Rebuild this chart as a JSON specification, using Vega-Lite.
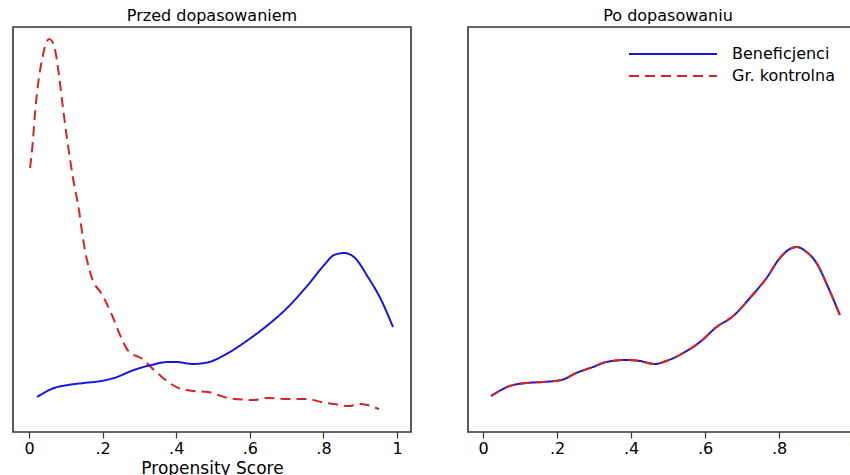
{
  "$schema": "https://vega.github.io/schema/vega-lite/v6.json",
  "background": "white",
  "padding": {"left": 12, "top": 7, "right": 0, "bottom": 0},
  "spacing": 55,
  "config": {
    "font": "DejaVu Sans",
    "view": {"stroke": "#333333", "strokeWidth": 1.6},
    "title": {"fontSize": 16, "fontWeight": "normal", "color": "#000000", "offset": 3, "frame": "group", "anchor": "middle"}
  },
  "datasets": {
    "d": [
      {"panel": "przed", "group": "Gr. kontrolna", "x": 0.003, "y": 2.64},
      {"panel": "przed", "group": "Gr. kontrolna", "x": 0.010, "y": 2.89},
      {"panel": "przed", "group": "Gr. kontrolna", "x": 0.017, "y": 3.22},
      {"panel": "przed", "group": "Gr. kontrolna", "x": 0.025, "y": 3.49},
      {"panel": "przed", "group": "Gr. kontrolna", "x": 0.037, "y": 3.75},
      {"panel": "przed", "group": "Gr. kontrolna", "x": 0.046, "y": 3.89},
      {"panel": "przed", "group": "Gr. kontrolna", "x": 0.055, "y": 3.93},
      {"panel": "przed", "group": "Gr. kontrolna", "x": 0.064, "y": 3.90},
      {"panel": "przed", "group": "Gr. kontrolna", "x": 0.073, "y": 3.78},
      {"panel": "przed", "group": "Gr. kontrolna", "x": 0.082, "y": 3.55},
      {"panel": "przed", "group": "Gr. kontrolna", "x": 0.092, "y": 3.25},
      {"panel": "przed", "group": "Gr. kontrolna", "x": 0.105, "y": 2.89},
      {"panel": "przed", "group": "Gr. kontrolna", "x": 0.119, "y": 2.55},
      {"panel": "przed", "group": "Gr. kontrolna", "x": 0.137, "y": 2.19},
      {"panel": "przed", "group": "Gr. kontrolna", "x": 0.146, "y": 1.95},
      {"panel": "przed", "group": "Gr. kontrolna", "x": 0.173, "y": 1.52},
      {"panel": "przed", "group": "Gr. kontrolna", "x": 0.196, "y": 1.39},
      {"panel": "przed", "group": "Gr. kontrolna", "x": 0.223, "y": 1.19},
      {"panel": "przed", "group": "Gr. kontrolna", "x": 0.245, "y": 0.99},
      {"panel": "przed", "group": "Gr. kontrolna", "x": 0.272, "y": 0.80},
      {"panel": "przed", "group": "Gr. kontrolna", "x": 0.304, "y": 0.74},
      {"panel": "przed", "group": "Gr. kontrolna", "x": 0.340, "y": 0.62},
      {"panel": "przed", "group": "Gr. kontrolna", "x": 0.378, "y": 0.50},
      {"panel": "przed", "group": "Gr. kontrolna", "x": 0.413, "y": 0.43},
      {"panel": "przed", "group": "Gr. kontrolna", "x": 0.448, "y": 0.41},
      {"panel": "przed", "group": "Gr. kontrolna", "x": 0.486, "y": 0.40},
      {"panel": "przed", "group": "Gr. kontrolna", "x": 0.514, "y": 0.37},
      {"panel": "przed", "group": "Gr. kontrolna", "x": 0.541, "y": 0.34},
      {"panel": "przed", "group": "Gr. kontrolna", "x": 0.611, "y": 0.32},
      {"panel": "przed", "group": "Gr. kontrolna", "x": 0.649, "y": 0.34},
      {"panel": "przed", "group": "Gr. kontrolna", "x": 0.704, "y": 0.33},
      {"panel": "przed", "group": "Gr. kontrolna", "x": 0.758, "y": 0.33},
      {"panel": "przed", "group": "Gr. kontrolna", "x": 0.793, "y": 0.30},
      {"panel": "przed", "group": "Gr. kontrolna", "x": 0.829, "y": 0.28},
      {"panel": "przed", "group": "Gr. kontrolna", "x": 0.867, "y": 0.26},
      {"panel": "przed", "group": "Gr. kontrolna", "x": 0.902, "y": 0.28},
      {"panel": "przed", "group": "Gr. kontrolna", "x": 0.929, "y": 0.26},
      {"panel": "przed", "group": "Gr. kontrolna", "x": 0.951, "y": 0.23},
      {"panel": "przed", "group": "Beneficjenci", "x": 0.022, "y": 0.35},
      {"panel": "przed", "group": "Beneficjenci", "x": 0.068, "y": 0.44},
      {"panel": "przed", "group": "Beneficjenci", "x": 0.106, "y": 0.47},
      {"panel": "przed", "group": "Beneficjenci", "x": 0.149, "y": 0.49},
      {"panel": "przed", "group": "Beneficjenci", "x": 0.196, "y": 0.51},
      {"panel": "przed", "group": "Beneficjenci", "x": 0.231, "y": 0.54},
      {"panel": "przed", "group": "Beneficjenci", "x": 0.285, "y": 0.62},
      {"panel": "przed", "group": "Beneficjenci", "x": 0.332, "y": 0.67},
      {"panel": "przed", "group": "Beneficjenci", "x": 0.378, "y": 0.70},
      {"panel": "przed", "group": "Beneficjenci", "x": 0.399, "y": 0.70},
      {"panel": "przed", "group": "Beneficjenci", "x": 0.446, "y": 0.68},
      {"panel": "przed", "group": "Beneficjenci", "x": 0.489, "y": 0.70},
      {"panel": "przed", "group": "Beneficjenci", "x": 0.541, "y": 0.79},
      {"panel": "przed", "group": "Beneficjenci", "x": 0.595, "y": 0.92},
      {"panel": "przed", "group": "Beneficjenci", "x": 0.649, "y": 1.07},
      {"panel": "przed", "group": "Beneficjenci", "x": 0.704, "y": 1.25},
      {"panel": "przed", "group": "Beneficjenci", "x": 0.758, "y": 1.47},
      {"panel": "przed", "group": "Beneficjenci", "x": 0.802, "y": 1.67},
      {"panel": "przed", "group": "Beneficjenci", "x": 0.829, "y": 1.77},
      {"panel": "przed", "group": "Beneficjenci", "x": 0.856, "y": 1.79},
      {"panel": "przed", "group": "Beneficjenci", "x": 0.883, "y": 1.75},
      {"panel": "przed", "group": "Beneficjenci", "x": 0.921, "y": 1.55},
      {"panel": "przed", "group": "Beneficjenci", "x": 0.957, "y": 1.32},
      {"panel": "przed", "group": "Beneficjenci", "x": 0.989, "y": 1.05},
      {"panel": "po", "group": "Beneficjenci", "x": 0.022, "y": 0.36},
      {"panel": "po", "group": "Beneficjenci", "x": 0.072, "y": 0.46},
      {"panel": "po", "group": "Beneficjenci", "x": 0.117, "y": 0.49},
      {"panel": "po", "group": "Beneficjenci", "x": 0.162, "y": 0.50},
      {"panel": "po", "group": "Beneficjenci", "x": 0.212, "y": 0.52},
      {"panel": "po", "group": "Beneficjenci", "x": 0.252, "y": 0.59},
      {"panel": "po", "group": "Beneficjenci", "x": 0.297, "y": 0.65},
      {"panel": "po", "group": "Beneficjenci", "x": 0.333, "y": 0.70},
      {"panel": "po", "group": "Beneficjenci", "x": 0.387, "y": 0.72},
      {"panel": "po", "group": "Beneficjenci", "x": 0.424, "y": 0.71},
      {"panel": "po", "group": "Beneficjenci", "x": 0.464, "y": 0.68},
      {"panel": "po", "group": "Beneficjenci", "x": 0.495, "y": 0.71},
      {"panel": "po", "group": "Beneficjenci", "x": 0.541, "y": 0.79},
      {"panel": "po", "group": "Beneficjenci", "x": 0.586, "y": 0.90},
      {"panel": "po", "group": "Beneficjenci", "x": 0.631, "y": 1.05},
      {"panel": "po", "group": "Beneficjenci", "x": 0.676, "y": 1.16},
      {"panel": "po", "group": "Beneficjenci", "x": 0.721, "y": 1.34},
      {"panel": "po", "group": "Beneficjenci", "x": 0.766, "y": 1.54},
      {"panel": "po", "group": "Beneficjenci", "x": 0.802, "y": 1.74},
      {"panel": "po", "group": "Beneficjenci", "x": 0.829, "y": 1.83},
      {"panel": "po", "group": "Beneficjenci", "x": 0.847, "y": 1.85},
      {"panel": "po", "group": "Beneficjenci", "x": 0.874, "y": 1.80},
      {"panel": "po", "group": "Beneficjenci", "x": 0.901, "y": 1.69},
      {"panel": "po", "group": "Beneficjenci", "x": 0.932, "y": 1.45},
      {"panel": "po", "group": "Beneficjenci", "x": 0.964, "y": 1.17},
      {"panel": "po", "group": "Gr. kontrolna", "x": 0.022, "y": 0.36},
      {"panel": "po", "group": "Gr. kontrolna", "x": 0.072, "y": 0.46},
      {"panel": "po", "group": "Gr. kontrolna", "x": 0.117, "y": 0.49},
      {"panel": "po", "group": "Gr. kontrolna", "x": 0.162, "y": 0.50},
      {"panel": "po", "group": "Gr. kontrolna", "x": 0.212, "y": 0.52},
      {"panel": "po", "group": "Gr. kontrolna", "x": 0.252, "y": 0.59},
      {"panel": "po", "group": "Gr. kontrolna", "x": 0.297, "y": 0.65},
      {"panel": "po", "group": "Gr. kontrolna", "x": 0.333, "y": 0.70},
      {"panel": "po", "group": "Gr. kontrolna", "x": 0.387, "y": 0.72},
      {"panel": "po", "group": "Gr. kontrolna", "x": 0.424, "y": 0.71},
      {"panel": "po", "group": "Gr. kontrolna", "x": 0.464, "y": 0.68},
      {"panel": "po", "group": "Gr. kontrolna", "x": 0.495, "y": 0.71},
      {"panel": "po", "group": "Gr. kontrolna", "x": 0.541, "y": 0.79},
      {"panel": "po", "group": "Gr. kontrolna", "x": 0.586, "y": 0.90},
      {"panel": "po", "group": "Gr. kontrolna", "x": 0.631, "y": 1.05},
      {"panel": "po", "group": "Gr. kontrolna", "x": 0.676, "y": 1.16},
      {"panel": "po", "group": "Gr. kontrolna", "x": 0.721, "y": 1.34},
      {"panel": "po", "group": "Gr. kontrolna", "x": 0.766, "y": 1.54},
      {"panel": "po", "group": "Gr. kontrolna", "x": 0.802, "y": 1.74},
      {"panel": "po", "group": "Gr. kontrolna", "x": 0.829, "y": 1.83},
      {"panel": "po", "group": "Gr. kontrolna", "x": 0.847, "y": 1.85},
      {"panel": "po", "group": "Gr. kontrolna", "x": 0.874, "y": 1.80},
      {"panel": "po", "group": "Gr. kontrolna", "x": 0.901, "y": 1.69},
      {"panel": "po", "group": "Gr. kontrolna", "x": 0.932, "y": 1.45},
      {"panel": "po", "group": "Gr. kontrolna", "x": 0.964, "y": 1.17}
    ]
  },
  "hconcat": [
    {
      "width": 398,
      "height": 405,
      "title": "Przed dopasowaniem",
      "data": {"name": "d"},
      "transform": [{"filter": "datum.panel == 'przed'"}],
      "mark": {"type": "line", "strokeWidth": 2, "interpolate": "monotone"},
      "encoding": {
        "x": {
          "field": "x", "type": "quantitative",
          "scale": {"domain": [-0.0435, 1.038], "nice": false, "zero": false},
          "axis": {
            "title": "Propensity Score", "values": [0, 0.2, 0.4, 0.6, 0.8, 1],
            "labelExpr": "datum.value == 0 ? '0' : datum.value == 1 ? '1' : replace(format(datum.value, '.1f'), '0.', '.')",
            "grid": false, "domain": false, "tickSize": 6, "tickColor": "#333333", "tickWidth": 1.2,
            "labelFontSize": 16, "labelColor": "#000000", "labelPadding": 2,
            "titleFontSize": 17, "titleFontWeight": "normal", "titleColor": "#000000", "titlePadding": 4
          }
        },
        "y": {"field": "y", "type": "quantitative", "scale": {"domain": [0, 4.05], "nice": false}, "axis": null},
        "color": {
          "field": "group", "type": "nominal",
          "scale": {"domain": ["Beneficjenci", "Gr. kontrolna"], "range": ["#1616e0", "#dc2121"]},
          "legend": null
        },
        "strokeDash": {
          "field": "group", "type": "nominal",
          "scale": {"domain": ["Beneficjenci", "Gr. kontrolna"], "range": [[1, 0], [10, 6]]},
          "legend": null
        }
      }
    },
    {
      "width": 400,
      "height": 405,
      "title": "Po dopasowaniu",
      "data": {"name": "d"},
      "transform": [{"filter": "datum.panel == 'po'"}],
      "mark": {"type": "line", "strokeWidth": 2, "interpolate": "monotone"},
      "encoding": {
        "x": {
          "field": "x", "type": "quantitative",
          "scale": {"domain": [-0.0405, 1.04], "nice": false, "zero": false},
          "axis": {
            "title": null, "values": [0, 0.2, 0.4, 0.6, 0.8, 1],
            "labelExpr": "datum.value == 0 ? '0' : datum.value == 1 ? '1' : replace(format(datum.value, '.1f'), '0.', '.')",
            "grid": false, "domain": false, "tickSize": 6, "tickColor": "#333333", "tickWidth": 1.2,
            "labelFontSize": 16, "labelColor": "#000000", "labelPadding": 2
          }
        },
        "y": {"field": "y", "type": "quantitative", "scale": {"domain": [0, 4.05], "nice": false}, "axis": null},
        "color": {
          "field": "group", "type": "nominal",
          "scale": {"domain": ["Beneficjenci", "Gr. kontrolna"], "range": ["#1616e0", "#dc2121"]},
          "legend": {
            "title": null, "orient": "none", "legendX": 193, "legendY": 15, "padding": 0,
            "symbolType": "M-4,0H4", "symbolSize": 484, "symbolStrokeWidth": 2,
            "labelFontSize": 16, "labelColor": "#000000", "labelOffset": 47, "rowPadding": 2
          }
        },
        "strokeDash": {
          "field": "group", "type": "nominal",
          "scale": {"domain": ["Beneficjenci", "Gr. kontrolna"], "range": [[1, 0], [10, 6]]},
          "legend": {
            "title": null, "orient": "none", "legendX": 193, "legendY": 15, "padding": 0,
            "symbolType": "M-4,0H4", "symbolSize": 484, "symbolStrokeWidth": 2,
            "labelFontSize": 16, "labelColor": "#000000", "labelOffset": 47, "rowPadding": 2
          }
        }
      }
    }
  ],
  "resolve": {"legend": {"color": "independent", "strokeDash": "independent"}}
}
